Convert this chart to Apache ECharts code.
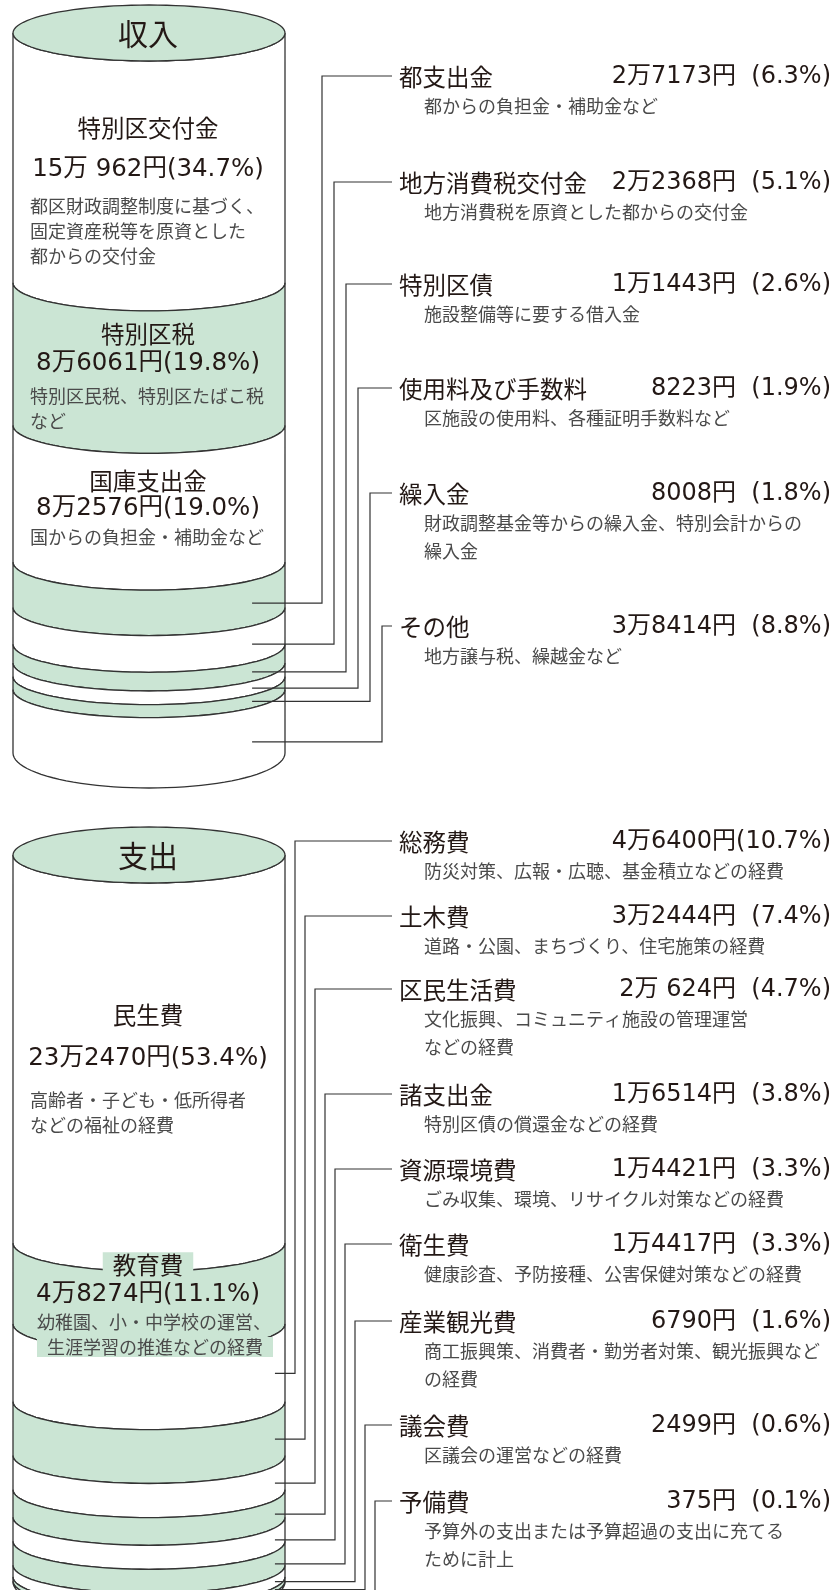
<!DOCTYPE html>
<html>
<head>
<meta charset="utf-8">
<style>
  html, body { margin: 0; padding: 0; background: #fff; }
  #chart { width: 833px; height: 1590px; }
</style>
<script src="https://cdn.jsdelivr.net/npm/echarts@6/dist/echarts.min.js"></script>
</head>
<body>
<div id="chart"></div>
<script>
// 収入
const incomeNames = ['特別区交付金', '特別区税', '国庫支出金', '都支出金', '地方消費税交付金', '特別区債', '使用料及び手数料', '繰入金', 'その他']
const incomeAmounts = ['15万 962円', '8万6061円', '8万2576円', '2万7173円', '2万2368円', '1万1443円', '8223円', '8008円', '3万8414円']
const incomePct = [34.7, 19.8, 19.0, 6.3, 5.1, 2.6, 1.9, 1.8, 8.8]
const incomeNotes = [
  ['都区財政調整制度に基づく、', '固定資産税等を原資とした', '都からの交付金'],
  ['特別区民税、特別区たばこ税', 'など'],
  ['国からの負担金・補助金など'],
  ['都からの負担金・補助金など'],
  ['地方消費税を原資とした都からの交付金'],
  ['施設整備等に要する借入金'],
  ['区施設の使用料、各種証明手数料など'],
  ['財政調整基金等からの繰入金、特別会計からの', '繰入金'],
  ['地方譲与税、繰越金など']
]

// 支出
const expenseNames = ['民生費', '教育費', '総務費', '土木費', '区民生活費', '諸支出金', '資源環境費', '衛生費', '産業観光費', '議会費', '予備費']
const expenseAmounts = ['23万2470円', '4万8274円', '4万6400円', '3万2444円', '2万 624円', '1万6514円', '1万4421円', '1万4417円', '6790円', '2499円', '375円']
const expensePct = [53.4, 11.1, 10.7, 7.4, 4.7, 3.8, 3.3, 3.3, 1.6, 0.6, 0.1]
const expenseNotes = [
  ['高齢者・子ども・低所得者', 'などの福祉の経費'],
  ['幼稚園、小・中学校の運営、', '生涯学習の推進などの経費'],
  ['防災対策、広報・広聴、基金積立などの経費'],
  ['道路・公園、まちづくり、住宅施策の経費'],
  ['文化振興、コミュニティ施設の管理運営', 'などの経費'],
  ['特別区債の償還金などの経費'],
  ['ごみ収集、環境、リサイクル対策などの経費'],
  ['健康診査、予防接種、公害保健対策などの経費'],
  ['商工振興策、消費者・勤労者対策、観光振興など', 'の経費'],
  ['区議会の運営などの経費'],
  ['予算外の支出または予算超過の支出に充てる', 'ために計上']
]

// layout (pixels)
const GREEN = '#cbe5d4'
const LINE = '#333'
const TEXT = '#231815'
const NOTE = '#4a4a4a'
const CJK = '"Noto Sans CJK JP", sans-serif'
const NUM = '"DejaVu Sans", "Noto Sans CJK JP", sans-serif'
const RY = 28
const BASE_RY = 35

const incomeInside = [
  { title: 128, amount: 170, notes: 206, x: 30 },
  { title: 334, amount: 364, notes: 396, x: 30 },
  { title: 481, amount: 509, notes: 537, x: 30 }
]
const expenseInside = [
  { title: 1015, amount: 1059, notes: 1100, x: 30 },
  { title: 1265, amount: 1295, notes: 1322, x: 37, bg: true }
]
const incomeRowY = [77, 183, 285, 389, 494, 627]      // rows for items 3..8
const expenseRowY = [842, 917, 990, 1095, 1170, 1245, 1322, 1426, 1502]  // items 2..10

function spans(vals) {
  let acc = 0
  return vals.map(v => { const s = acc; acc += v; return [s, acc] })
}

function arc(cx, cy, rx, ry, leftToRight) {
  const pts = []
  for (let k = 0; k <= 48; k++) {
    const t = leftToRight ? Math.PI - Math.PI * k / 48 : Math.PI * k / 48
    pts.push([cx + rx * Math.cos(t), cy + ry * Math.sin(t)])
  }
  return pts
}

function ellipse(cx, cy, rx, ry) {
  const pts = []
  for (let k = 0; k < 96; k++) {
    const t = Math.PI * 2 * k / 96
    pts.push([cx + rx * Math.cos(t), cy + ry * Math.sin(t)])
  }
  return pts
}

function cylinderItem(params, api) {
  const i = params.dataIndex
  const last = i === params.dataInsideLength - 1
  const a = api.coord([0, api.value(0)])
  const b = api.coord([1, api.value(1)])
  const rx = (b[0] - a[0]) / 2
  const cx = a[0] + rx
  const pts = arc(cx, a[1], rx, RY, true).concat(arc(cx, b[1], rx, last ? BASE_RY : RY, false))
  const children = [{
    type: 'polygon',
    shape: { points: pts },
    style: { fill: i % 2 ? GREEN : '#fff', stroke: LINE, lineWidth: 1.3 }
  }]
  if (i === 0) {
    children.push({
      type: 'polygon',
      shape: { points: ellipse(cx, a[1], rx, RY) },
      style: { fill: GREEN, stroke: LINE, lineWidth: 1.3 }
    })
  }
  return { type: 'group', children }
}

function leaderItem(first, anchorX, vx0, vstep, rowY) {
  return function (params, api) {
    const i = params.dataIndex
    if (i < first) return null
    const last = i === params.dataInsideLength - 1
    const s = api.value(0), e = api.value(1)
    const left = api.coord([0, s])
    const right = api.coord([1, s])
    const rx = (right[0] - left[0]) / 2
    const cx = left[0] + rx
    const pTop = api.coord([anchorX, s])
    const pBot = api.coord([anchorX, e])
    const f = Math.sqrt(Math.max(0, 1 - Math.pow((pTop[0] - cx) / rx, 2)))
    const y0 = (pTop[1] + RY * f + pBot[1] + (last ? BASE_RY : RY) * f) / 2
    const k = i - first
    const vx = vx0 + vstep * k
    const ry = rowY[k] - 1
    return {
      type: 'polyline',
      shape: { points: [[pTop[0], y0], [vx, y0], [vx, ry], [392, ry]] },
      style: { stroke: LINE, lineWidth: 1.2, fill: null }
    }
  }
}

const incomeSpans = spans(incomePct)
const expenseSpans = spans(expensePct)

// texts
const texts = []
function txt(x, y, text, size, opt) {
  opt = opt || {}
  texts.push({
    type: 'text', x, y, z: 100,
    style: Object.assign({
      text, fontSize: size, fontFamily: opt.family || CJK, fill: opt.fill || TEXT,
      align: opt.align || 'left', verticalAlign: 'middle'
    }, opt.bg ? { backgroundColor: GREEN, padding: [1, 10] } : {})
  })
}

txt(148, 34, '収入', 30, { align: 'center' })
txt(148, 856, '支出', 30, { align: 'center' })

function inside(layout, names, amounts, pct, notes) {
  layout.forEach((l, i) => {
    txt(148, l.title, names[i], 23.5, { align: 'center', bg: l.bg })
    txt(148, l.amount, amounts[i] + '(' + pct[i].toFixed(1) + '%)', 24.5, { align: 'center', family: NUM })
    notes[i].forEach((n, j) => txt(l.x, l.notes + j * 25, n, 18, { fill: NOTE, bg: l.bg && j === notes[i].length - 1 }))
  })
}
inside(incomeInside, incomeNames, incomeAmounts, incomePct, incomeNotes)
inside(expenseInside, expenseNames, expenseAmounts, expensePct, expenseNotes)

function list(first, rowY, names, amounts, pct, notes) {
  rowY.forEach((y, k) => {
    const i = first + k
    txt(399, y, names[i], 23.5)
    txt(736, y, amounts[i], 24, { align: 'right', family: NUM })
    txt(831, y, '(' + pct[i].toFixed(1) + '%)', 24, { align: 'right', family: NUM })
    notes[i].forEach((n, j) => txt(424, y + 29 + j * 28, n, 18, { fill: NOTE }))
  })
}
list(3, incomeRowY, incomeNames, incomeAmounts, incomePct, incomeNotes)
list(2, expenseRowY, expenseNames, expenseAmounts, expensePct, expenseNotes)

const chart = echarts.init(document.getElementById('chart'))
chart.setOption({
  animation: false,
  grid: [
    { left: 13, top: 33, width: 272, height: 720 },
    { left: 13, top: 855, width: 272, height: 727 }
  ],
  xAxis: [
    { gridIndex: 0, type: 'value', min: 0, max: 1, show: false },
    { gridIndex: 1, type: 'value', min: 0, max: 1, show: false }
  ],
  yAxis: [
    { gridIndex: 0, type: 'value', min: 0, max: 100, inverse: true, show: false },
    { gridIndex: 1, type: 'value', min: 0, max: 100, inverse: true, show: false }
  ],
  series: [
    {
      type: 'custom', name: '収入', xAxisIndex: 0, yAxisIndex: 0,
      renderItem: cylinderItem, data: incomeSpans, encode: { y: [0, 1] }
    },
    {
      type: 'custom', name: '支出', xAxisIndex: 1, yAxisIndex: 1,
      renderItem: cylinderItem, data: expenseSpans, encode: { y: [0, 1] }
    },
    {
      type: 'custom', xAxisIndex: 0, yAxisIndex: 0, z: 5,
      renderItem: leaderItem(3, 0.879, 322, 12, incomeRowY), data: incomeSpans, encode: { y: [0, 1] }
    },
    {
      type: 'custom', xAxisIndex: 1, yAxisIndex: 1, z: 5,
      renderItem: leaderItem(2, 0.963, 295, 10, expenseRowY), data: expenseSpans, encode: { y: [0, 1] }
    }
  ],
  graphic: texts
})
</script>
</body>
</html>
